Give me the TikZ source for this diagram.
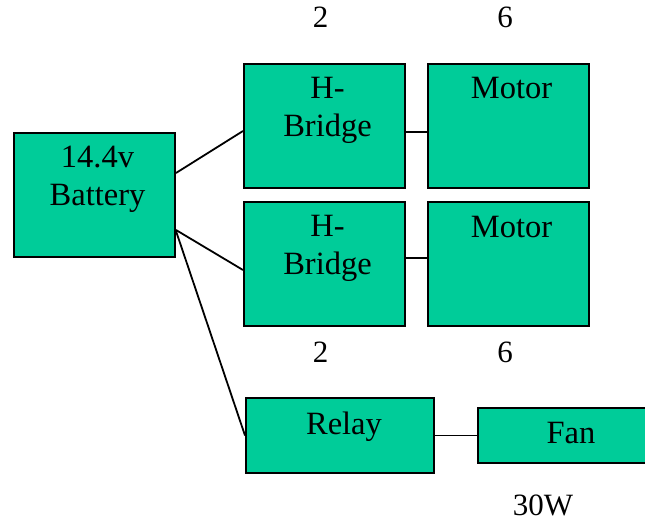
\documentclass[tikz,border=0pt]{standalone}
\usepackage{fontspec}
\setmainfont{Liberation Serif}
\usepackage{tikz}
\usetikzlibrary{positioning, calc}

\definecolor{boxgreen}{HTML}{00CC99}

\tikzset{
  block/.style={draw=black, line width=2pt, fill=boxgreen, inner sep=0pt},
  boxtext/.style={anchor=base, align=center, inner sep=0pt, font=\fontsize{32.5}{37.5}\selectfont},
  count/.style={anchor=base, inner sep=0pt, font=\fontsize{31}{36}\selectfont},
  wire/.style={line width=1.8pt}
}

\begin{document}
\begin{tikzpicture}[x=1pt, y=-1pt]
    \useasboundingbox (0,0) rectangle (645,521);
    \clip (0,0) rectangle (645,521);
    % blocks
    \node[block, minimum width=161pt, minimum height=124pt] (battery) at (94.5,195) {};
    \node[block, minimum width=161pt, minimum height=124pt] (hbridgeA) at (324.5,126) {};
    \node[block, minimum width=161pt, minimum height=124pt] (motorA) at (508.5,126) {};
    \node[block, minimum width=161pt, minimum height=124pt] (hbridgeB) at (324.5,264) {};
    \node[block, minimum width=161pt, minimum height=124pt] (motorB) at (508.5,264) {};
    \node[block, minimum width=188pt, minimum height=75pt] (relay) at (340,435.5) {};
    \node[block, minimum width=190pt, minimum height=55pt] (fan) at (573,435.5) {};
    % texts (base = last line)
    \node[boxtext] (batteryText) at ($(battery.north)+(3,73.5)$) {14.4v\\Battery};
    \node[boxtext] (hbridgeAText) at ($(hbridgeA.north)+(3,73.5)$) {H-\\Bridge};
    \node[boxtext] (motorAText) at ($(motorA.north)+(3,36)$) {Motor};
    \node[boxtext] (hbridgeBText) at ($(hbridgeB.north)+(3,73.5)$) {H-\\Bridge};
    \node[boxtext] (motorBText) at ($(motorB.north)+(3,36.5)$) {Motor};
    \node[boxtext] (relayText) at ($(relay.north)+(4,37)$) {Relay};
    \node[boxtext] (fanText) at (571,443) {Fan};
    % counts
    \node[count] (hbridgeATop) at (320.5,28) {2};
    \node[count] (motorATop) at (505,28) {6};
    \node[count] (hbridgeBLow) at (320.5,362) {2};
    \node[count] (motorBLow) at (505,362) {6};
    \node[count] (fanPower) at (543,515) {30W};
    % wires
    \draw[wire] ([yshift=22pt]battery.east) -- ([yshift=-5pt]hbridgeA.west);
    \draw[wire] ([yshift=-35pt]battery.east) -- ([yshift=-6pt]hbridgeB.west);
    \draw[wire] ([yshift=-36pt]battery.east) -- (relay.west);
    \draw[wire] ([yshift=-6pt]hbridgeA.east) -- ([yshift=-6pt]motorA.west);
    \draw[wire] ([yshift=6pt]hbridgeB.east) -- ([yshift=6pt]motorB.west);
    \draw[wire] (relay.east) -- (fan.west);
\end{tikzpicture}
\end{document}
